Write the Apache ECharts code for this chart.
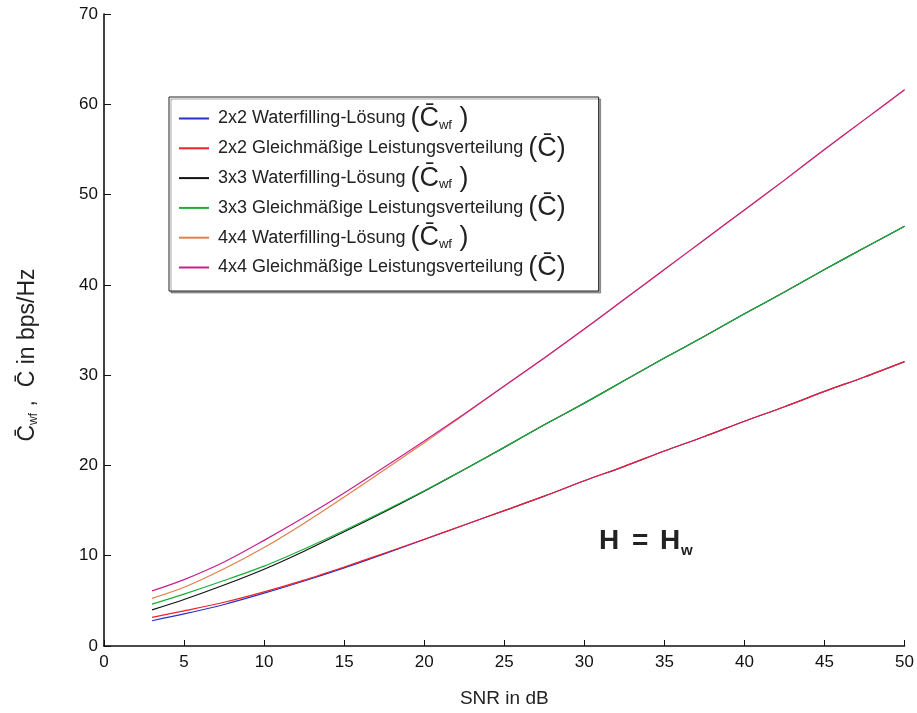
<!DOCTYPE html>
<html>
<head>
<meta charset="utf-8">
<script src="https://cdn.jsdelivr.net/npm/echarts@6/dist/echarts.min.js"></script>
<style>html,body{margin:0;padding:0;background:#fff}#c{width:917px;height:713px}</style>
</head>
<body>
<div id="c"></div>
<script>
// SNR in dB (x values)
const snr = [3, 5, 7.5, 10, 12.5, 15, 17.5, 20, 22.5, 25, 27.5, 30, 32.5, 35, 37.5, 40, 42.5, 45, 47.5, 50];

// Capacities in bps/Hz
const wf2 = [2.8, 3.55, 4.6, 5.85, 7.2, 8.65, 10.2, 11.8, 13.4, 15.0, 16.6, 18.3, 19.9, 21.6, 23.2, 24.9, 26.5, 28.2, 29.8, 31.5];
const eq2 = [3.17, 3.9, 4.85, 6.0, 7.3, 8.75, 10.27, 11.82, 13.4, 15.0, 16.6, 18.3, 19.9, 21.6, 23.2, 24.9, 26.5, 28.2, 29.8, 31.5];
const wf3 = [4.0, 5.15, 6.75, 8.5, 10.5, 12.65, 14.85, 17.15, 19.55, 22.0, 24.5, 26.9, 29.4, 31.9, 34.3, 36.8, 39.2, 41.7, 44.1, 46.5];
const eq3 = [4.64, 5.75, 7.25, 8.85, 10.75, 12.8, 14.95, 17.2, 19.55, 22.0, 24.5, 26.9, 29.4, 31.9, 34.3, 36.8, 39.2, 41.7, 44.1, 46.5];
const wf4 = [5.27, 6.5, 8.55, 10.9, 13.6, 16.5, 19.5, 22.5, 25.65, 28.8, 31.9, 35.1, 38.4, 41.7, 45.0, 48.3, 51.6, 55.0, 58.3, 61.6];
const eq4 = [6.1, 7.35, 9.3, 11.7, 14.25, 16.95, 19.8, 22.7, 25.7, 28.8, 31.9, 35.1, 38.4, 41.7, 45.0, 48.3, 51.6, 55.0, 58.3, 61.6];

const seriesNames = ['2x2 WF', '2x2 GL', '3x3 WF', '3x3 GL', '4x4 WF', '4x4 GL'];
const seriesData = [wf2, eq2, wf3, eq3, wf4, eq4];
const seriesColors = ['#2233c8', '#f0202a', '#111111', '#1aae3c', '#e0804a', '#c8208c'];
const legendLabels = {
  '2x2 WF': '{t|2x2 Waterfilling-Lösung }{p|(}{c|C\u0304}{s|wf}{p| )}',
  '2x2 GL': '{t|2x2 Gleichmäßige Leistungsverteilung }{p|(}{c|C\u0304}{p|)}',
  '3x3 WF': '{t|3x3 Waterfilling-Lösung }{p|(}{c|C\u0304}{s|wf}{p| )}',
  '3x3 GL': '{t|3x3 Gleichmäßige Leistungsverteilung }{p|(}{c|C\u0304}{p|)}',
  '4x4 WF': '{t|4x4 Waterfilling-Lösung }{p|(}{c|C\u0304}{s|wf}{p| )}',
  '4x4 GL': '{t|4x4 Gleichmäßige Leistungsverteilung }{p|(}{c|C\u0304}{p|)}'
};

const FONT = 'Liberation Sans, Arial, Helvetica, sans-serif';
const chart = echarts.init(document.getElementById('c'));

chart.setOption({
  backgroundColor: '#fff',
  animation: false,
  textStyle: { fontFamily: FONT },
  grid: { left: 104, right: 11, top: 14, bottom: 66 },
  legend: {
    orient: 'vertical',
    left: 169, top: 97,
    padding: [8, 33, 10, 10],
    itemGap: 2.8,
    itemWidth: 30, itemHeight: 2,
    icon: 'rect',
    backgroundColor: '#fff',
    borderColor: '#222', borderWidth: 1,
    shadowColor: 'rgba(0,0,0,0.35)', shadowOffsetX: 2, shadowOffsetY: 2, shadowBlur: 0,
    data: seriesNames,
    formatter: n => legendLabels[n],
    textStyle: {
      fontFamily: FONT, color: '#222',
      rich: {
        t: { fontSize: 18, color: '#222', lineHeight: 26, height: 26, padding: [0, 0, 0, 4], fontFamily: FONT },
        p: { fontSize: 27, color: '#222', lineHeight: 26, fontFamily: FONT },
        c: { fontSize: 27, color: '#222', lineHeight: 26, fontFamily: FONT },
        s: { fontSize: 13, color: '#222', lineHeight: 26, verticalAlign: 'bottom', padding: [12, 0, 0, 0], fontFamily: FONT }
      }
    }
  },
  xAxis: {
    type: 'value', min: 0, max: 50, interval: 5,
    name: 'SNR in dB', nameLocation: 'middle', nameGap: 43,
    nameTextStyle: { fontSize: 19, color: '#222', fontFamily: FONT },
    axisLine: { show: true, onZero: false, lineStyle: { color: '#111', width: 1.6 } },
    axisTick: { show: true, inside: true, length: 6, lineStyle: { color: '#111' } },
    axisLabel: { fontSize: 17, color: '#111', margin: 8, fontFamily: FONT },
    splitLine: { show: false }
  },
  yAxis: {
    type: 'value', min: 0, max: 70, interval: 10,
    axisLine: { show: true, lineStyle: { color: '#111', width: 1.6 } },
    axisTick: { show: true, inside: true, length: 7, lineStyle: { color: '#111' } },
    axisLabel: { fontSize: 17, color: '#111', margin: 6, fontFamily: FONT },
    splitLine: { show: false }
  },
  graphic: [
    {
      type: 'text', x: 28, y: 355, rotation: Math.PI / 2,
      style: {
        text: '{c|C\u0304}{s|wf}{c| ,  C\u0304 in bps/Hz}',
        align: 'center', verticalAlign: 'middle',
        rich: {
          c: { fontSize: 23, fill: '#222', fontFamily: FONT },
          s: { fontSize: 12, fill: '#222', verticalAlign: 'bottom', padding: [9, 0, 0, 0], fontFamily: FONT }
        }
      }
    },
    { type: 'text', left: 599, top: 527, style: { text: 'H', fontSize: 28, fontWeight: 'bold', fill: '#222', fontFamily: FONT } },
    { type: 'text', left: 632, top: 527, style: { text: '=', fontSize: 28, fontWeight: 'bold', fill: '#222', fontFamily: FONT } },
    { type: 'text', left: 660, top: 527, style: { text: 'H', fontSize: 28, fontWeight: 'bold', fill: '#222', fontFamily: FONT } },
    { type: 'text', left: 681, top: 543, style: { text: 'w', fontSize: 15, fontWeight: 'bold', fill: '#222', fontFamily: FONT } }
  ],
  series: seriesNames.map((n, i) => ({
    name: n,
    type: 'line',
    data: snr.map((x, k) => [x, seriesData[i][k]]),
    smooth: 0.3,
    showSymbol: false,
    symbol: 'none',
    color: seriesColors[i],
    lineStyle: { width: 1.2, color: seriesColors[i] }
  }))
});
</script>
</body>
</html>
